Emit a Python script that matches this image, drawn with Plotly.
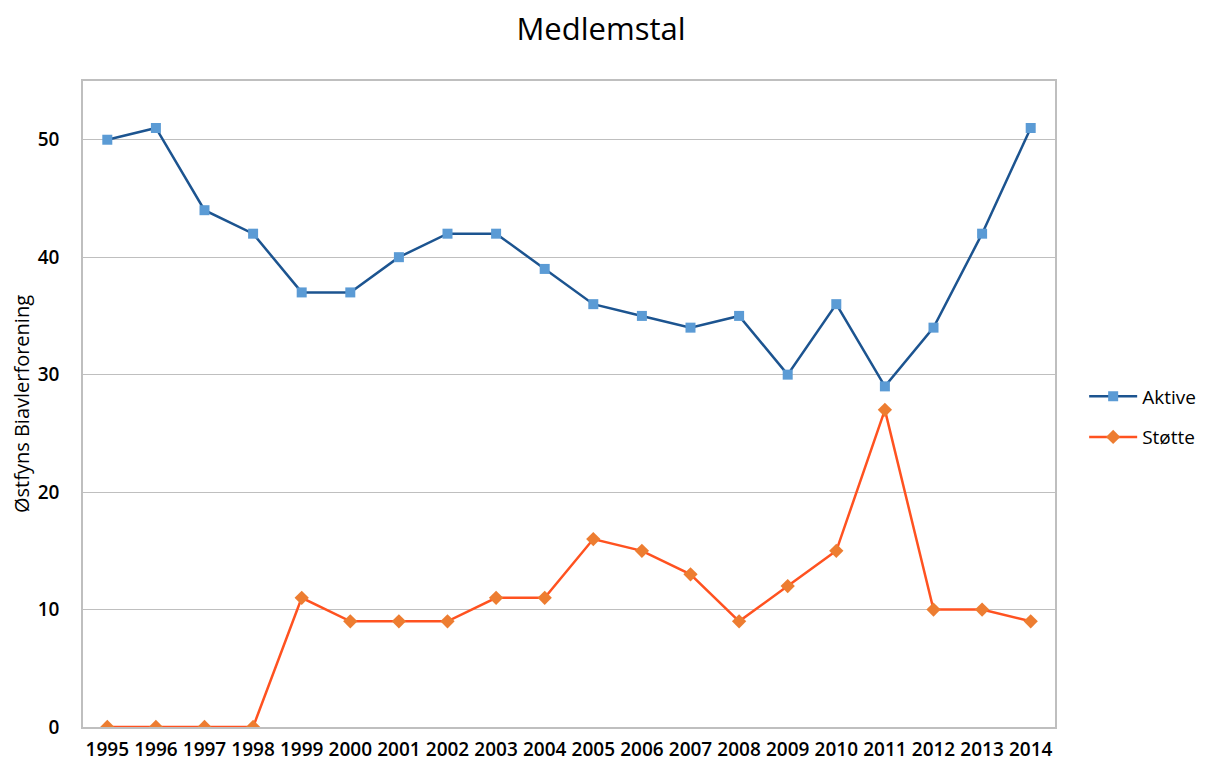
import plotly.graph_objects as go

years = [str(y) for y in range(1995, 2015)]
aktive = [50, 51, 44, 42, 37, 37, 40, 42, 42, 39, 36, 35, 34, 35, 30, 36, 29, 34, 42, 51]
stotte = [0, 0, 0, 0, 11, 9, 9, 9, 11, 11, 16, 15, 13, 9, 12, 15, 27, 10, 10, 9]
y_ticks = [0, 10, 20, 30, 40, 50]

fig = go.Figure()
fig.add_trace(go.Scatter(
    x=years, y=aktive, name="Aktive", mode="lines+markers", legendgroup="a",
    line=dict(color="#1C5490", width=2.5),
    marker=dict(symbol="square", size=10, color="#5B9BD5"),
))
fig.add_trace(go.Scatter(
    x=years, y=stotte, name="Støtte", mode="lines+markers", legendgroup="b",
    line=dict(color="#FF5220", width=2.5),
    marker=dict(symbol="diamond", size=11, color="#ED7D31"),
))

fig.update_layout(
    width=1209, height=762,
    paper_bgcolor="white", plot_bgcolor="white",
    margin=dict(l=75, r=162, t=73, b=43, autoexpand=False),
    title=dict(text="Medlemstal", x=0.4905, xanchor="center", y=0.972, yanchor="middle",
               font=dict(family="Open Sans", size=31, color="#000000")),
    font=dict(family="Open Sans", color="#000000"),
    showlegend=True,
    legend=dict(x=1.03, y=0.48, xanchor="left", yanchor="middle", itemwidth=48,
                font=dict(size=19, color="#000000"), tracegroupgap=13,
                bgcolor="rgba(0,0,0,0)"),
)
fig.update_xaxes(
    type="category", range=[-0.5, 19.5], showgrid=False, automargin=False,
    showline=True, linecolor="#BFBFBF", linewidth=1.5, mirror=True,
    ticks="", ticklabelstandoff=4,
    tickfont=dict(size=19, weight=600, family="Open Sans"),
)
fig.update_yaxes(
    range=[0, 55], tickvals=y_ticks, showgrid=True, gridcolor="#BFBFBF", gridwidth=1,
    showline=True, linecolor="#BFBFBF", linewidth=1.5, mirror=True, zeroline=False,
    ticks="", ticklabelstandoff=18, automargin=False,
    tickfont=dict(size=19, weight=600, family="Open Sans"),
    title=dict(text="Østfyns Biavlerforening", font=dict(size=20), standoff=8),
)

fig.write_html("out.html")
